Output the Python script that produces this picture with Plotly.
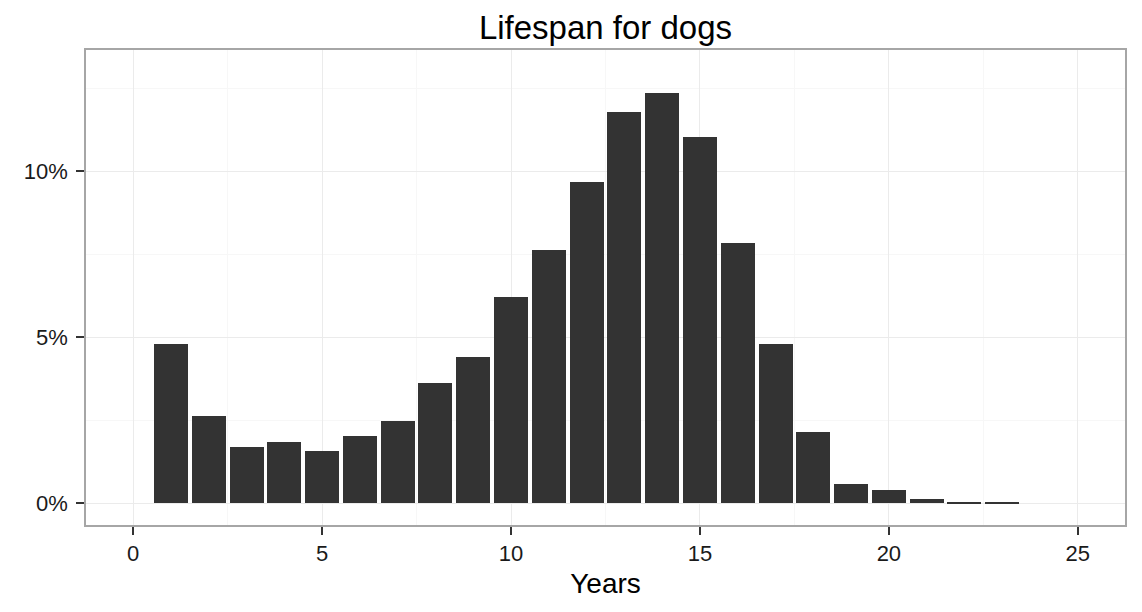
import plotly.graph_objects as go

years = list(range(1, 24))
percent = [4.80, 2.63, 1.70, 1.84, 1.58, 2.02, 2.49, 3.64, 4.40, 6.20, 7.62,
           9.69, 11.78, 12.36, 11.02, 7.84, 4.81, 2.16, 0.58, 0.39, 0.14, 0.05, 0.03]
x_ticks = [0, 5, 10, 15, 20, 25]
y_ticks = [0, 5, 10]
y_tick_labels = ["0%", "5%", "10%"]

fig = go.Figure(go.Bar(
    x=years, y=percent, width=0.9,
    marker=dict(color="#333333", line=dict(width=0)),
    hovertemplate="%{x}: %{y}%<extra></extra>",
))

# the page body has an 8px margin; figure is sized so the panel lands at
# x 86..1125, y 50..525 in the 1142x612 window
fig.update_layout(
    width=1134, height=604,
    margin=dict(l=78, r=17, t=42, b=87),
    paper_bgcolor="white", plot_bgcolor="white",
    font=dict(family="Liberation Sans, Arial, sans-serif", color="#1a1a1a"),
    title=dict(text="Lifespan for dogs", x=0.5, xref="paper", xanchor="center",
               y=1 - 31 / 604, yref="container", yanchor="bottom",
               font=dict(size=33, color="#000000")),
    showlegend=False,
    bargap=0,
)

fig.update_xaxes(
    range=[-1.25, 26.25], tickvals=x_ticks, ticktext=[str(v) for v in x_ticks],
    showgrid=True, gridcolor="#ebebeb", gridwidth=1.2, zeroline=False,
    minor=dict(dtick=2.5, tick0=0, showgrid=True, gridcolor="#f7f7f7", gridwidth=1, ticks=""),
    showline=True, linecolor="#a6a6a6", linewidth=1.5, mirror=True,
    ticks="outside", ticklen=8, tickwidth=2, tickcolor="#333333",
    tickfont=dict(size=22, color="#1a1a1a"),
    title=dict(text="Years", font=dict(size=28, color="#000000"), standoff=8),
)
fig.update_yaxes(
    range=[-0.65, 13.65], tickvals=y_ticks, ticktext=y_tick_labels,
    showgrid=True, gridcolor="#ebebeb", gridwidth=1.2, zeroline=False,
    minor=dict(dtick=2.5, tick0=0, showgrid=True, gridcolor="#f7f7f7", gridwidth=1, ticks=""),
    showline=True, linecolor="#a6a6a6", linewidth=1.5, mirror=True,
    ticks="outside", ticklen=8, tickwidth=2, tickcolor="#333333",
    ticklabelstandoff=4,
    tickfont=dict(size=22, color="#1a1a1a"),
)

fig.write_html("out.html")
